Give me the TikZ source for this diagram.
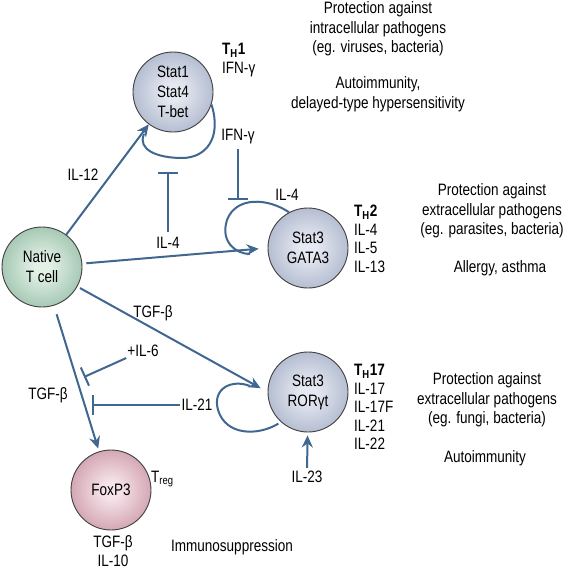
\documentclass[tikz,border=0pt]{standalone}
\usepackage{fontspec}
\setmainfont{Liberation Sans}[FakeStretch=0.82]
\usetikzlibrary{arrows.meta}
\definecolor{arrc}{HTML}{3F6790}
\definecolor{bin}{HTML}{E6E9F1}
\definecolor{bout}{HTML}{7888AB}
\definecolor{gin}{HTML}{E2F0E6}
\definecolor{gout}{HTML}{5C9876}
\definecolor{pin}{HTML}{F6E4EA}
\definecolor{pout}{HTML}{A95C71}
\pgfdeclareradialshading{blueball}{\pgfpoint{0bp}{0bp}}{color(0bp)=(bin); color(5bp)=(bin); color(50bp)=(bout)}
\pgfdeclareradialshading{greenball}{\pgfpoint{0bp}{0bp}}{color(0bp)=(gin); color(5bp)=(gin); color(50bp)=(gout)}
\pgfdeclareradialshading{pinkball}{\pgfpoint{0bp}{0bp}}{color(0bp)=(pin); color(5bp)=(pin); color(50bp)=(pout)}
\newcommand\dtxt{\fontsize{16.5}{19.5}\selectfont}
\tikzset{
  cell/.style={circle, draw=black!75, line width=0.9pt, minimum size=80pt, inner sep=0pt, align=center, font=\fontsize{16.5}{20}\selectfont},
  bluecell/.style={cell, shading=blueball},
  greencell/.style={cell, shading=greenball},
  pinkcell/.style={cell, shading=pinkball},
  arr/.style={draw=arrc, line width=2pt, -{Stealth[length=12pt,width=11pt,inset=4pt]}},
  inh/.style={draw=arrc, line width=2pt, -{Bar[width=20pt]}},
  loopline/.style={draw=arrc, line width=2pt},
  lbl/.style={font=\dtxt, inner sep=1pt},
  col/.style={font=\fontsize{16.5}{18.5}\selectfont, inner sep=0pt, anchor=west, align=left},
}
\begin{document}
\begin{tikzpicture}[x=1pt,y=-1pt]
\useasboundingbox (0,0) rectangle (573,571);
\fill[white] (0,0) rectangle (573,571);

% cells
\node[bluecell] (th1) at (173,92) {Stat1\\Stat4\\T-bet};
\node[greencell] (naive) at (42,267) {Native\\T cell};
\node[bluecell] (th2) at (308,248) {Stat3\\GATA3};
\node[bluecell] (th17) at (308,392) {Stat3\\RORγt};
\node[pinkcell] (treg) at (111,490) {FoxP3};

% cell descriptions
\node[col] (th1lab) at (222,60) {\textbf{T\textsubscript{H}1}\\IFN-γ};
\node[col] (th2lab) at (354,239) {\textbf{T\textsubscript{H}2}\\IL-4\\IL-5\\IL-13};
\node[col] (th17lab) at (354,407) {\textbf{T\textsubscript{H}17}\\IL-17\\IL-17F\\IL-21\\IL-22};
\node[lbl, anchor=west] (treglab) at (150,479) {T\textsubscript{reg}};
\node[lbl, align=center, font=\fontsize{16.5}{18.5}\selectfont] (tregout) at (113,551) {TGF-β\\IL-10};

% function texts
\node[lbl, align=center] (prot1) at (378,29) {Protection against\\intracellular pathogens\\(eg. viruses, bacteria)};
\node[lbl, align=center] (auto1) at (378,94) {Autoimmunity,\\delayed-type hypersensitivity};
\node[lbl, align=center] (prot2) at (492,211) {Protection against\\extracellular pathogens\\(eg. parasites, bacteria)};
\node[lbl] (allergy) at (500,268) {Allergy, asthma};
\node[lbl, align=center] (prot17) at (487,400) {Protection against\\extracellular pathogens\\(eg. fungi, bacteria)};
\node[lbl] (auto17) at (485,458) {Autoimmunity};
\node[lbl] (immuno) at (232,547) {Immunosuppression};

% connector labels
\node[lbl] (il12) at (83,175) {IL-12};
\node[lbl] (il4a) at (168,243) {IL-4};
\node[lbl] (ifng) at (238,137) {IFN-γ};
\node[lbl] (il4b) at (287,195) {IL-4};
\node[lbl] (tgfb17) at (153,313) {TGF-β};
\node[lbl] (il6) at (143,351) {+IL-6};
\node[lbl] (tgfbreg) at (48,395) {TGF-β};
\node[lbl] (il21) at (197,405) {IL-21};
\node[lbl] (il23) at (307,477) {IL-23};

% free ends
\coordinate (b4) at (168,172);
\coordinate (bifn) at (238,200);
\coordinate (b6) at (84,377);
\coordinate (b21) at (92,405);
\coordinate (l1end) at (144,134);
\coordinate (l2end) at (250,254);
\coordinate (l3end) at (250,386);

% self loops
\draw[loopline] (th1.-18) .. controls (222,138) and (206,158) .. (182,158) .. controls (158,158) and (137,150) .. (l1end);
\draw[loopline] (th2.118) .. controls (268,198) and (236,196) .. (227,220) .. controls (220,242) and (236,254) .. (l2end);
\draw[loopline, shorten <=3pt] (th17.228) .. controls (258,436) and (226,436) .. (218,410) .. controls (212,388) and (232,379) .. (l3end);

% activating arrows
\draw[arr] (naive) -- (th1);
\draw[arr, shorten <=4pt, shorten >=9pt] (naive) -- (th2.west);
\draw[arr, shorten <=3pt, shorten >=8pt] (naive) -- (th17.west);
\draw[arr, shorten <=9pt, shorten >=3pt] (naive) -- (treg);
\draw[arr, shorten <=2pt, shorten >=3pt] (il23) -- (th17);

% inhibitions
\draw[inh, shorten <=4pt] (il4a) -- (b4);
\draw[inh, shorten <=3pt] (ifng) -- (bifn);
\draw[inh] (il6.south west) -- (b6);
\draw[inh] (il21.west) -- (b21);
\end{tikzpicture}
\end{document}
